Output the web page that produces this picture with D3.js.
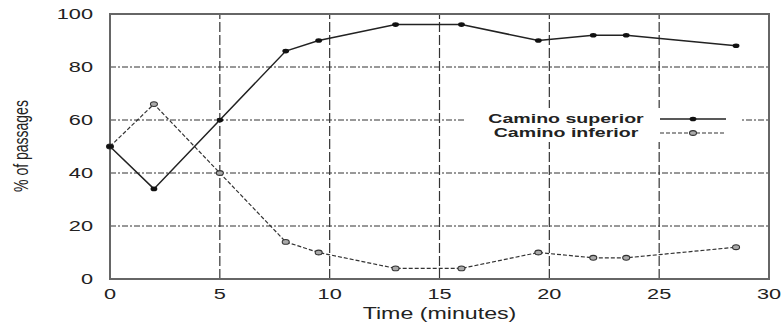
<!DOCTYPE html>
<html>
<head>
<meta charset="utf-8">
<script src="https://cdn.jsdelivr.net/npm/d3@7"></script>
<style>
  body { margin: 0; background: #fff; }
  text { font-family: "Liberation Sans", Arial, sans-serif; fill: #222; }
</style>
</head>
<body>
<div id="chart"></div>
<script>
// data
const times = [0, 2, 5, 8, 9.5, 13, 16, 19.5, 22, 23.5, 28.5];
const superior = [50, 34, 60, 86, 90, 96, 96, 90, 92, 92, 88];
const inferior = [50, 66, 40, 14, 10, 4, 4, 10, 8, 8, 12];
const seriesNames = ['Camino superior', 'Camino inferior'];
const xTicks = [0, 5, 10, 15, 20, 25, 30];
const yTicks = [0, 20, 40, 60, 80, 100];

const width = 781;
const height = 327;
const margin = { top: 14, right: 12, bottom: 48, left: 110 };
const sx = 1.45; // the original picture is stretched sideways

const xScale = d3.scaleLinear().domain([0, 30]).range([margin.left, width - margin.right]);
const yScale = d3.scaleLinear().domain([0, 100]).range([height - margin.bottom, margin.top]);

const svg = d3.select('#chart').append('svg')
  .attr('width', width)
  .attr('height', height);

// grid
const grid = svg.append('g');
grid.selectAll('line.h')
  .data(yTicks.filter(d => d > 0 && d < 100))
  .enter().append('line')
  .attr('x1', xScale(0)).attr('x2', xScale(30))
  .attr('y1', d => yScale(d)).attr('y2', d => yScale(d))
  .attr('stroke', '#333').attr('stroke-width', 1)
  .attr('stroke-dasharray', '6,2,2,2');
grid.selectAll('line.v')
  .data(xTicks.filter(d => d > 0 && d < 30))
  .enter().append('line')
  .attr('x1', d => xScale(d)).attr('x2', d => xScale(d))
  .attr('y1', yScale(0)).attr('y2', yScale(100))
  .attr('stroke', '#333').attr('stroke-width', 1.2)
  .attr('stroke-dasharray', '10,3');

// frame
svg.append('rect')
  .attr('x', xScale(0)).attr('y', yScale(100))
  .attr('width', xScale(30) - xScale(0))
  .attr('height', yScale(0) - yScale(100))
  .attr('fill', 'none').attr('stroke', '#666').attr('stroke-width', 2);

// stretched text helper
function label(g, x, y, txt, opts = {}) {
  return g.append('text')
    .attr('transform', `translate(${x},${y}) scale(${sx},1)` + (opts.rotate ? ` rotate(${opts.rotate})` : ''))
    .attr('text-anchor', opts.anchor || 'middle')
    .attr('dominant-baseline', opts.baseline || 'auto')
    .style('font-size', (opts.size || 15) + 'px')
    .style('font-weight', opts.weight || 'normal')
    .text(txt);
}

// tick labels
yTicks.forEach(d => label(svg, 93, yScale(d), d, { anchor: 'end', baseline: 'central' }));
xTicks.forEach(d => label(svg, xScale(d), 299, d));

// axis titles
label(svg, xScale(15), 319, 'Time (minutes)', { size: 16 });
label(svg, 28, 146, '% of passages', { size: 14, rotate: -90 });

// lines
const line = d3.line().x((d, i) => xScale(times[i])).y(d => yScale(d));

svg.append('path').datum(inferior)
  .attr('d', line).attr('fill', 'none')
  .attr('stroke', '#333').attr('stroke-width', 1.2)
  .attr('stroke-dasharray', '4,2');
svg.append('path').datum(superior)
  .attr('d', line).attr('fill', 'none')
  .attr('stroke', '#222').attr('stroke-width', 1.5);

// markers
function infMarker(g, x, y) {
  g.append('ellipse').attr('cx', x).attr('cy', y).attr('rx', 3.5).attr('ry', 2.4)
    .attr('fill', '#aaa').attr('stroke', '#333').attr('stroke-width', 1.1);
}
function supMarker(g, x, y) {
  g.append('ellipse').attr('cx', x).attr('cy', y).attr('rx', 3.4).attr('ry', 2.3)
    .attr('fill', '#111');
}
inferior.forEach((d, i) => infMarker(svg, xScale(times[i]), yScale(d)));
superior.forEach((d, i) => supMarker(svg, xScale(times[i]), yScale(d)));

// legend
const legend = svg.append('g');
legend.append('rect')
  .attr('x', 466).attr('y', 108).attr('width', 274).attr('height', 34)
  .attr('fill', '#fff');
const legendY = [119, 133];
seriesNames.forEach((name, i) => {
  label(legend, 566, legendY[i], name, { baseline: 'central', weight: 'bold', size: 13.5 });
  legend.append('line')
    .attr('x1', 660).attr('x2', 726)
    .attr('y1', legendY[i]).attr('y2', legendY[i])
    .attr('stroke', i === 0 ? '#222' : '#333')
    .attr('stroke-width', i === 0 ? 1.5 : 1.2)
    .attr('stroke-dasharray', i === 0 ? null : '4,2');
  if (i === 0) supMarker(legend, 693, legendY[i]);
  else infMarker(legend, 693, legendY[i]);
});
</script>
</body>
</html>
